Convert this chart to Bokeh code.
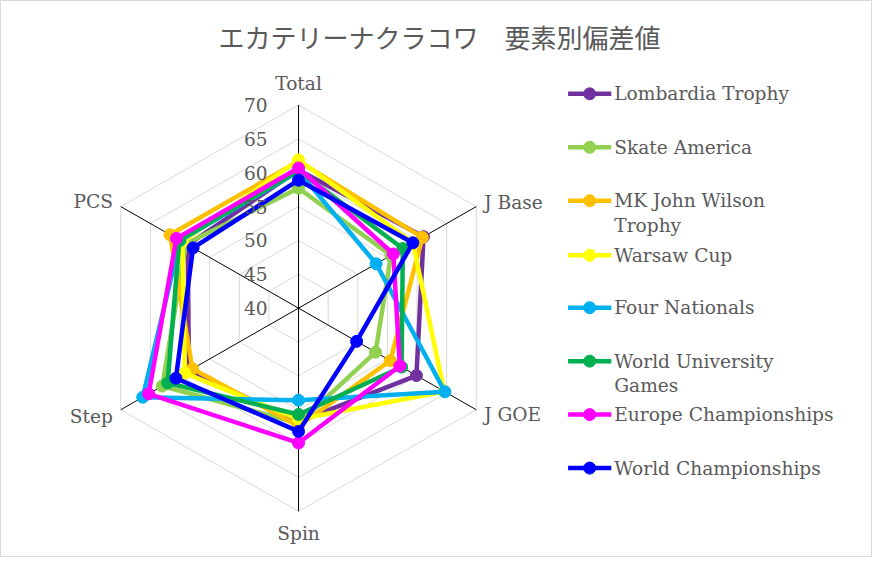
import numpy as np
from bokeh.plotting import figure
from bokeh.models import Range1d
from bokeh.core.properties import value
from bokeh.embed import file_html
from bokeh.resources import INLINE

title = "エカテリーナクラコワ　要素別偏差値"
categories = ["Total", "J Base", "J GOE", "Spin", "Step", "PCS"]
series_names = ["Lombardia Trophy", "Skate America", "MK John Wilson Trophy", "Warsaw Cup",
                "Four Nationals", "World University Games", "Europe Championships",
                "World Championships"]
lombardia = [60.4, 61.1, 59.9, 56.8, 58.5, 58.7]
skate_america = [57.7, 55.6, 53.0, 57.0, 63.0, 59.0]
mk_john_wilson = [61.7, 60.9, 55.5, 57.4, 57.9, 61.7]
warsaw = [61.9, 59.3, 64.6, 56.4, 59.2, 59.6]
four_nationals = [60.2, 53.1, 64.7, 53.6, 66.3, 60.0]
world_university = [60.3, 57.6, 57.4, 55.7, 62.1, 60.1]
europe = [60.7, 56.0, 57.1, 59.9, 65.3, 60.6]
world_champ = [58.9, 59.3, 49.8, 58.2, 60.7, 57.8]
series_values = [lombardia, skate_america, mk_john_wilson, warsaw,
                 four_nationals, world_university, europe, world_champ]
ticks = [40, 45, 50, 55, 60, 65, 70]
colors = ["#7030A0", "#92D050", "#FFC000", "#FFFF00", "#00B0F0", "#00B050", "#FF00FF", "#0000FF"]

SERIF = value("DejaVu Serif")
TXT = "#595959"
FS = "18.6px"

p = figure(width=872, height=557, x_range=Range1d(0, 888), y_range=Range1d(573, 0),
           output_backend="svg", toolbar_location=None, min_border=0,
           x_axis_type=None, y_axis_type=None)
p.grid.visible = False
p.outline_line_color = "#d9d9d9"
p.background_fill_color = "white"
p.border_fill_color = "white"

cx, cy, R = 303.5, 316.5, 209.0
vmin, vmax = ticks[0], ticks[-1]
ang = np.deg2rad([90, 30, -30, -90, -150, 150])


def pos(vals):
    r = (np.asarray(vals, dtype=float) - vmin) / (vmax - vmin) * R
    return cx + r * np.cos(ang), cy - r * np.sin(ang)


# grid rings
for t in ticks[1:]:
    xs, ys = pos([t] * 6)
    p.line(list(xs) + [xs[0]], list(ys) + [ys[0]], line_color="#d9d9d9", line_width=1)

# spokes
vx, vy = pos([vmax] * 6)
p.segment(x0=[cx] * 6, y0=[cy] * 6, x1=list(vx), y1=list(vy), line_color="#000000", line_width=1)

# series
for vals, c in zip(series_values, colors):
    xs, ys = pos(vals)
    p.line(list(xs) + [xs[0]], list(ys) + [ys[0]], line_color=c, line_width=4.5,
           line_join="round")
    p.scatter(list(xs), list(ys), marker="circle", size=12, fill_color=c, line_color=c)

# tick labels
ty = [cy - (t - vmin) / (vmax - vmin) * R for t in ticks]
p.text(x=[272] * len(ticks), y=ty, text=[str(t) for t in ticks], text_align="right",
       text_baseline="middle", text_font=SERIF, text_font_size=FS, text_color=TXT)

# category labels
lx = [vx[0], vx[1] + 8, vx[2] + 8, vx[3], vx[4] - 8, vx[5] - 8]
ly = [vy[0] - 22, vy[1] - 4, vy[2] + 5, vy[3] + 23, vy[4] + 7, vy[5] - 5]
aligns = ["center", "left", "left", "center", "right", "right"]
for x, y, t, a in zip(lx, ly, categories, aligns):
    p.text(x=[x], y=[y], text=[t], text_align=a, text_baseline="middle", text_font=SERIF,
           text_font_size=FS, text_color=TXT)

# title
p.text(x=[447], y=[37], text=[title], text_align="center", text_baseline="middle",
       text_font=value("Noto Sans CJK JP"), text_font_size="26px", text_color=TXT)

# legend
leg_y = [96, 151, 206, 262, 316, 371, 426, 481]
wrap = {"MK John Wilson Trophy": ["MK John Wilson", "Trophy"],
        "World University Games": ["World University", "Games"]}
for name, c, y in zip(series_names, colors, leg_y):
    p.line([578, 622], [y, y], line_color=c, line_width=4.5)
    p.scatter([600], [y], marker="circle", size=12, fill_color=c, line_color=c)
    lines = wrap.get(name, [name])
    p.text(x=[625] * len(lines), y=[y + 25 * i for i in range(len(lines))], text=lines,
           text_align="left", text_baseline="middle", text_font=SERIF,
           text_font_size=FS, text_color=TXT)

open("out.html", "w").write(file_html(p, INLINE))
